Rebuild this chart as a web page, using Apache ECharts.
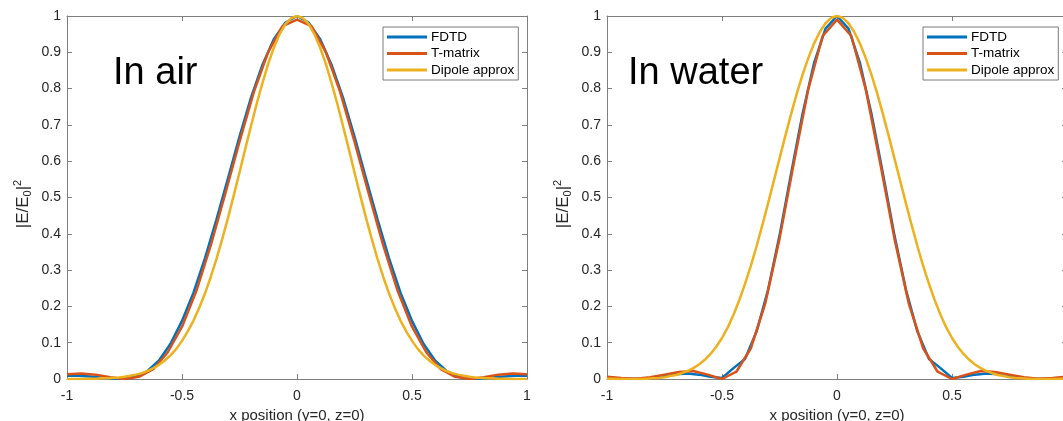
<!DOCTYPE html>
<html>
<head>
<meta charset="utf-8">
<script src="https://cdn.jsdelivr.net/npm/echarts@6/dist/echarts.min.js"></script>
<style>html,body{margin:0;padding:0;background:#fff}#c{width:1063px;height:421px}</style>
</head>
<body>
<div id="c"></div>
<script>
// ---- data ----
const seriesNames = ['FDTD', 'T-matrix', 'Dipole approx'];
const xTicks = [-1, -0.5, 0, 0.5, 1];
const yTicks = [0, 0.1, 0.2, 0.3, 0.4, 0.5, 0.6, 0.7, 0.8, 0.9, 1];
const panelTitles = ['In air', 'In water'];

// sampling grids (x from -1 to 1)
const fdtdStep = 0.05, tmatStep = 0.0625, dipStep = 0.025;

// In air
const airFDTD = [0.009,0.009,0.007,0.004,0.001,0.001,0.007,0.022,0.051,0.097,0.160,0.238,0.333,0.440,0.553,0.668,0.775,0.866,0.937,0.982,1.000,0.982,0.937,0.866,0.775,0.668,0.553,0.440,0.333,0.238,0.160,0.097,0.051,0.022,0.007,0.001,0.001,0.004,0.007,0.009,0.009];
const airTmat = [0.013,0.015,0.012,0.005,0.000,0.006,0.027,0.073,0.144,0.243,0.368,0.509,0.654,0.791,0.901,0.972,0.990,0.972,0.901,0.791,0.654,0.509,0.368,0.243,0.144,0.073,0.027,0.006,0.000,0.005,0.012,0.015,0.013];
const airDipole = [0.000,0.000,0.000,0.000,0.001,0.001,0.002,0.002,0.003,0.004,0.006,0.009,0.012,0.016,0.022,0.030,0.039,0.051,0.065,0.083,0.105,0.131,0.161,0.196,0.236,0.281,0.331,0.386,0.444,0.506,0.569,0.634,0.697,0.759,0.816,0.869,0.914,0.951,0.978,0.994,1.000,0.994,0.978,0.951,0.914,0.869,0.816,0.759,0.697,0.634,0.569,0.506,0.444,0.386,0.331,0.281,0.236,0.196,0.161,0.131,0.105,0.083,0.065,0.051,0.039,0.030,0.022,0.016,0.012,0.009,0.006,0.004,0.003,0.002,0.002,0.001,0.001,0.000,0.000,0.000,0.000];

// In water
const waterFDTD = [0.003,0.002,0.001,0.001,0.003,0.008,0.013,0.015,0.012,0.006,0.003,0.030,0.055,0.130,0.245,0.395,0.565,0.730,0.870,0.965,1.000,0.965,0.870,0.730,0.565,0.395,0.245,0.130,0.055,0.030,0.003,0.006,0.012,0.015,0.013,0.008,0.003,0.001,0.001,0.002,0.003];
const waterTmat = [0.006,0.003,0.001,0.005,0.012,0.019,0.022,0.012,0.000,0.020,0.084,0.207,0.386,0.596,0.798,0.945,0.990,0.945,0.798,0.596,0.386,0.207,0.084,0.020,0.000,0.012,0.022,0.019,0.012,0.005,0.001,0.003,0.006];
const waterDipole = [0.001,0.001,0.000,0.000,0.000,0.000,0.000,0.001,0.002,0.003,0.005,0.008,0.011,0.016,0.022,0.030,0.040,0.053,0.069,0.089,0.113,0.142,0.177,0.217,0.262,0.311,0.365,0.423,0.483,0.545,0.607,0.669,0.729,0.786,0.838,0.884,0.924,0.956,0.980,0.995,1.000,0.995,0.980,0.956,0.924,0.884,0.838,0.786,0.729,0.669,0.607,0.545,0.483,0.423,0.365,0.311,0.262,0.217,0.177,0.142,0.113,0.089,0.069,0.053,0.040,0.030,0.022,0.016,0.011,0.008,0.005,0.003,0.002,0.001,0.000,0.000,0.000,0.000,0.000,0.001,0.001];

// ---- build ----
function pairs(vals, step) { return vals.map((v, i) => [+(-1 + i * step).toFixed(4), v]); }
const colors = ['#0072BD', '#D95319', '#EDB120'];
const FONT = 'Liberation Sans, Arial, Helvetica, sans-serif';
const axisGray = '#7f7f7f';
const panels = [[airFDTD, airTmat, airDipole], [waterFDTD, waterTmat, waterDipole]];
const steps = [fdtdStep, tmatStep, dipStep];
const gridLefts = [67, 607];
const titleOffsets = [46, 21];

const grid = gridLefts.map(l => ({ left: l, top: 16, width: 460, height: 363, outerBoundsMode: 'none', containLabel: false }));
const xAxis = [], yAxis = [], series = [], legend = [], graphic = [];
const richY = {
  n: { fontSize: 17, fontFamily: FONT, fill: '#262626', color: '#262626', lineHeight: 21 },
  s: { fontSize: 11, fontFamily: FONT, fill: '#262626', color: '#262626', verticalAlign: 'bottom', lineHeight: 21 },
  p: { fontSize: 11, fontFamily: FONT, fill: '#262626', color: '#262626', verticalAlign: 'top', lineHeight: 21 }
};
gridLefts.forEach((l, g) => {
  const common = { gridIndex: g, type: 'value', min: -1, max: 1, interval: 0.5,
    splitLine: { show: false },
    axisLine: { onZero: false, lineStyle: { color: axisGray, width: 1 } },
    axisTick: { inside: true, length: 5, lineStyle: { color: axisGray } } };
  xAxis.push(Object.assign({}, common, { position: 'bottom',
    axisLabel: { color: '#262626', fontSize: 14, fontFamily: FONT, margin: 10,
      formatter: v => xTicks.includes(v) ? String(v) : '' },
    name: 'x position (y=0, z=0)', nameLocation: 'middle', nameGap: 28,
    nameTextStyle: { color: '#262626', fontSize: 15, fontFamily: FONT } }));
  xAxis.push(Object.assign({}, common, { position: 'top', axisLabel: { show: false } }));
  const ycommon = { gridIndex: g, type: 'value', min: 0, max: 1, interval: 0.1,
    splitLine: { show: false },
    axisLine: { onZero: false, lineStyle: { color: axisGray, width: 1 } },
    axisTick: { inside: true, length: 5, lineStyle: { color: axisGray } } };
  yAxis.push(Object.assign({}, ycommon, { position: 'left',
    axisLabel: { color: '#262626', fontSize: 14, fontFamily: FONT, margin: 6,
      formatter: v => { const t = yTicks.find(k => Math.abs(k - v) < 1e-9); return t === undefined ? '' : String(t); } } }));
  yAxis.push(Object.assign({}, ycommon, { position: 'right', axisLabel: { show: false } }));

  panels[g].forEach((vals, k) => {
    series.push({ type: 'line', name: seriesNames[k], xAxisIndex: 2 * g, yAxisIndex: 2 * g,
      data: pairs(vals, steps[k]), showSymbol: false, symbol: 'none', clip: true,
      lineStyle: { color: colors[k], width: 2.5 }, itemStyle: { color: colors[k] },
      emphasis: { disabled: true }, z: 2 + k });
  });

  legend.push({ data: seriesNames, orient: 'vertical', left: l + 316, top: 27,
    icon: 'rect', itemWidth: 40, itemHeight: 3, itemGap: 2.5,
    padding: [3, 4, 3, 4], backgroundColor: '#fff', borderColor: '#7a7a7a', borderWidth: 1, borderRadius: 0,
    textStyle: { fontSize: 13.5, fontFamily: FONT, color: '#000', padding: [0, 0, 0, -1] },
    selectedMode: false });

  graphic.push({ type: 'text', left: l + titleOffsets[g], top: 55,
    style: { text: panelTitles[g], font: '38px ' + FONT, fill: '#000' } });
  graphic.push({ type: 'text', x: l - 44, y: 204, rotation: Math.PI / 2,
    style: { text: '{n||E/E}{s|0}{n||}{p|2}', rich: richY, align: 'center', verticalAlign: 'middle',
      fill: '#262626', font: '17px ' + FONT } });
});

const chart = echarts.init(document.getElementById('c'), null, { renderer: 'canvas' });
chart.setOption({ animation: false, backgroundColor: '#fff', grid, xAxis, yAxis, series, legend, graphic });
</script>
</body>
</html>
